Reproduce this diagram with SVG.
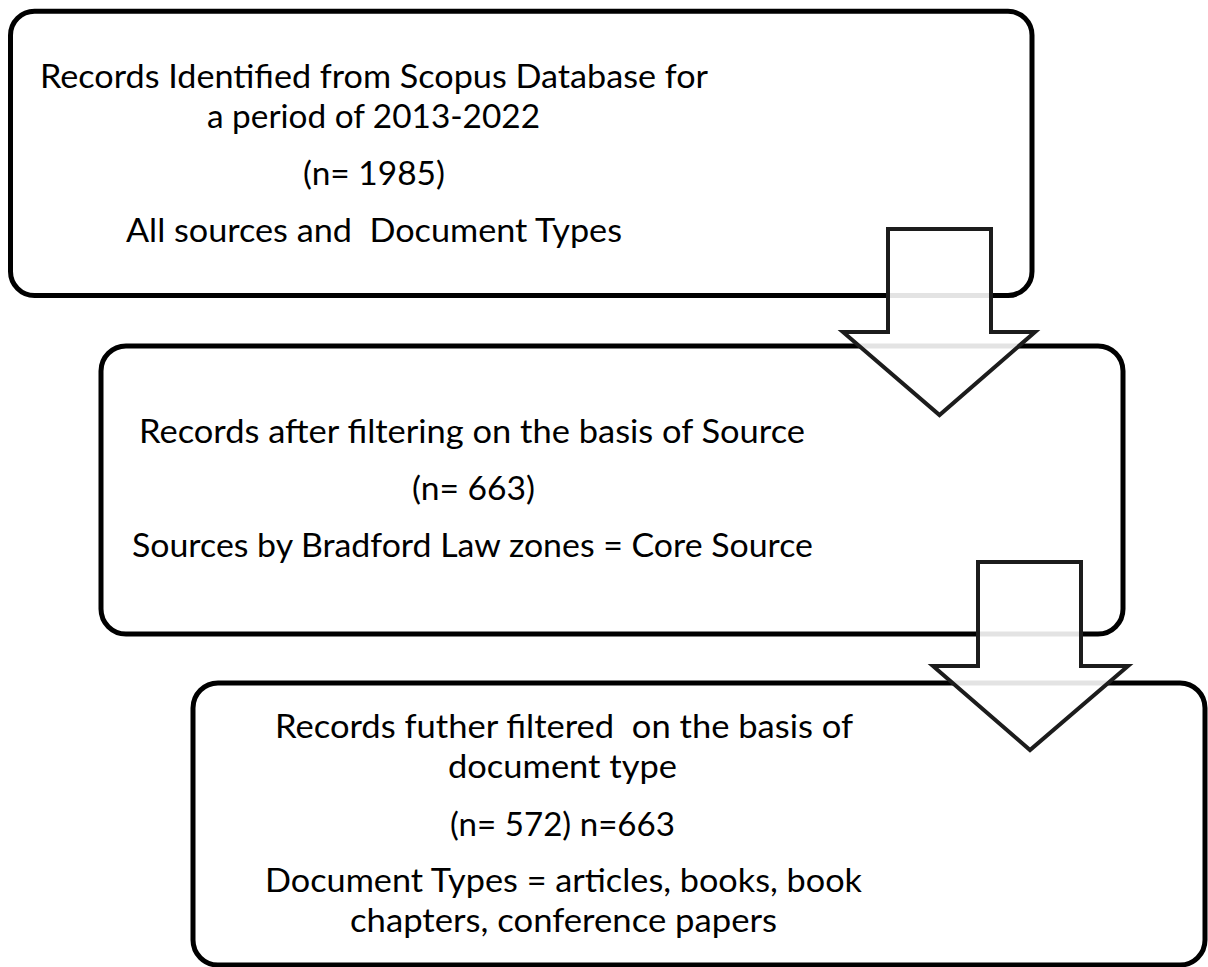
<svg xmlns="http://www.w3.org/2000/svg" width="1208" height="967" viewBox="0 0 1208 967">
  <style>
    .box { fill: #ffffff; stroke: #000000; stroke-width: 5; }
    .arrow { fill: #ffffff; fill-opacity: 0.89; stroke: #1c1c1c; stroke-width: 4; stroke-linejoin: miter; }
    text { font-family: Lato, "Liberation Sans", sans-serif; font-size: 32.5px; fill: #000000; white-space: pre; }
  </style>
  <rect width="1208" height="967" fill="#ffffff"/>

  <!-- Stage 1: identification -->
  <g id="node-identified">
    <rect class="box" x="10.5" y="11.3" width="1021.5" height="284.2" rx="24" ry="24"/>
    <text x="40" y="88" textLength="668" lengthAdjust="spacingAndGlyphs">Records Identified from Scopus Database for</text>
    <text x="207" y="128" textLength="333" lengthAdjust="spacingAndGlyphs">a period of 2013-2022</text>
    <text x="303" y="185" textLength="142" lengthAdjust="spacingAndGlyphs">(n= 1985)</text>
    <text x="126" y="242" textLength="496" lengthAdjust="spacingAndGlyphs">All sources and  Document Types</text>
  </g>

  <!-- Stage 2: source filter -->
  <g id="node-source">
    <rect class="box" x="101" y="346" width="1022" height="288" rx="25" ry="25"/>
    <text x="139" y="443" textLength="666" lengthAdjust="spacingAndGlyphs">Records after filtering on the basis of Source</text>
    <text x="412" y="500" textLength="123" lengthAdjust="spacingAndGlyphs">(n= 663)</text>
    <text x="132" y="557" textLength="681" lengthAdjust="spacingAndGlyphs">Sources by Bradford Law zones = Core Source</text>
  </g>

  <!-- Stage 3: document type filter -->
  <g id="node-doctype">
    <rect class="box" x="193" y="683" width="1012" height="282" rx="25" ry="25"/>
    <text x="275" y="738" textLength="578" lengthAdjust="spacingAndGlyphs">Records futher filtered  on the basis of</text>
    <text x="448" y="778" textLength="229" lengthAdjust="spacingAndGlyphs">document type</text>
    <text x="450" y="836" textLength="225" lengthAdjust="spacingAndGlyphs">(n= 572) n=663</text>
    <text x="265" y="892" textLength="597" lengthAdjust="spacingAndGlyphs">Document Types = articles, books, book</text>
    <text x="350" y="932" textLength="427" lengthAdjust="spacingAndGlyphs">chapters, conference papers</text>
  </g>

  <!-- Block arrows between stages -->
  <g id="connectors">
    <polygon class="arrow" points="888,229 991,229 991,332 1035,332 939.5,415 843,332 888,332"/>
    <polygon class="arrow" points="978,562 1081,562 1081,666 1128,666 1030,750 933,666 978,666"/>
  </g>
</svg>
